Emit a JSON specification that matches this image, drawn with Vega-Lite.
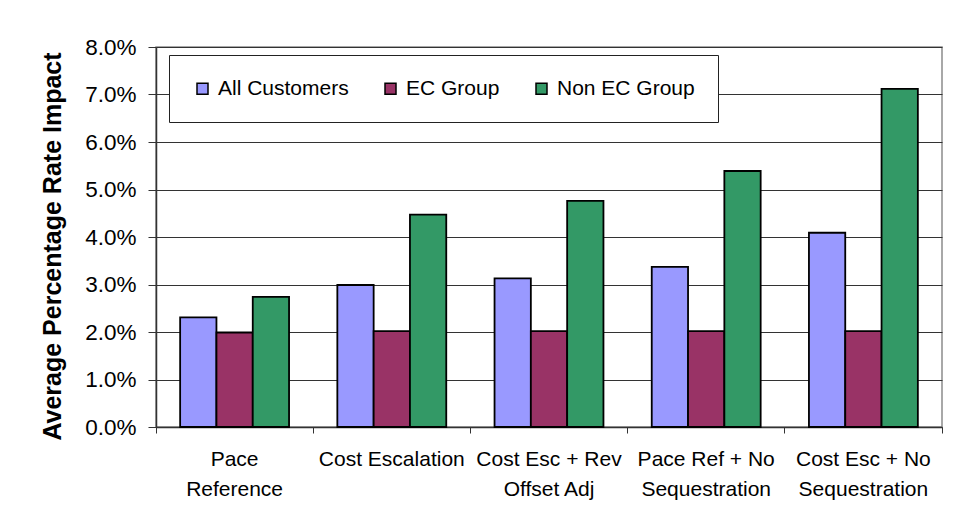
{
  "$schema": "https://vega.github.io/schema/vega-lite/v6.json",
  "autosize": "none",
  "padding": {"left": 156, "top": 47, "right": 14, "bottom": 102},
  "width": 786,
  "height": 380,
  "background": "white",
  "data": {
    "values": [
      {"scenario": "Pace Reference", "group": "All Customers", "impact": 0.0231},
      {"scenario": "Pace Reference", "group": "EC Group", "impact": 0.0199},
      {"scenario": "Pace Reference", "group": "Non EC Group", "impact": 0.0274},
      {"scenario": "Cost Escalation", "group": "All Customers", "impact": 0.0299},
      {"scenario": "Cost Escalation", "group": "EC Group", "impact": 0.0202},
      {"scenario": "Cost Escalation", "group": "Non EC Group", "impact": 0.0447},
      {"scenario": "Cost Esc + Rev Offset Adj", "group": "All Customers", "impact": 0.0313},
      {"scenario": "Cost Esc + Rev Offset Adj", "group": "EC Group", "impact": 0.0202},
      {"scenario": "Cost Esc + Rev Offset Adj", "group": "Non EC Group", "impact": 0.0476},
      {"scenario": "Pace Ref + No Sequestration", "group": "All Customers", "impact": 0.0337},
      {"scenario": "Pace Ref + No Sequestration", "group": "EC Group", "impact": 0.0202},
      {"scenario": "Pace Ref + No Sequestration", "group": "Non EC Group", "impact": 0.0539},
      {"scenario": "Cost Esc + No Sequestration", "group": "All Customers", "impact": 0.0409},
      {"scenario": "Cost Esc + No Sequestration", "group": "EC Group", "impact": 0.0202},
      {"scenario": "Cost Esc + No Sequestration", "group": "Non EC Group", "impact": 0.0712}
    ]
  },
  "mark": {"type": "bar", "stroke": "black", "strokeWidth": 1.8},
  "encoding": {
    "x": {
      "field": "scenario",
      "type": "nominal",
      "sort": null,
      "title": null,
      "scale": {"paddingInner": 0, "paddingOuter": 0},
      "axis": {
        "labelAngle": 0,
        "labelFont": "Liberation Sans",
        "labelFontSize": 21,
        "labelColor": "black",
        "labelLineHeight": 30,
        "labelBaseline": "top",
        "labelPadding": 15,
        "labelExpr": "datum.label == 'Pace Reference' ? ['Pace', 'Reference'] : datum.label == 'Cost Esc + Rev Offset Adj' ? ['Cost Esc + Rev', 'Offset Adj'] : datum.label == 'Pace Ref + No Sequestration' ? ['Pace Ref + No', 'Sequestration'] : datum.label == 'Cost Esc + No Sequestration' ? ['Cost Esc + No', 'Sequestration'] : datum.label",
        "bandPosition": 1,
        "tickExtra": true,
        "tickSize": 6,
        "tickColor": "#333333",
        "domainColor": "#333333",
        "domainWidth": 1.5,
        "labelLimit": 300
      }
    },
    "xOffset": {
      "field": "group",
      "type": "nominal",
      "sort": ["All Customers", "EC Group", "Non EC Group"],
      "scale": {"paddingInner": 0, "paddingOuter": 0.665}
    },
    "y": {
      "field": "impact",
      "type": "quantitative",
      "title": "Average Percentage Rate Impact",
      "scale": {"domain": [0, 0.08], "nice": false},
      "axis": {
        "values": [0, 0.01, 0.02, 0.03, 0.04, 0.05, 0.06, 0.07, 0.08],
        "format": ".1%",
        "labelFont": "Liberation Sans",
        "labelFontSize": 22.5,
        "labelColor": "black",
        "labelPadding": 12,
        "tickSize": 8,
        "tickColor": "#333333",
        "domainColor": "#333333",
        "domainWidth": 1.5,
        "grid": true,
        "gridColor": "#333333",
        "gridWidth": 1,
        "titleFont": "Liberation Sans",
        "titleFontSize": 25,
        "titleFontWeight": "bold",
        "titleColor": "black",
        "titleAngle": -90,
        "titleAlign": "center",
        "titleBaseline": "middle",
        "titleX": -104,
        "titleY": 199
      }
    },
    "color": {
      "field": "group",
      "type": "nominal",
      "sort": ["All Customers", "EC Group", "Non EC Group"],
      "scale": {
        "domain": ["All Customers", "EC Group", "Non EC Group"],
        "range": ["#9999FF", "#993366", "#339966"]
      },
      "legend": {
        "title": null,
        "orient": "none",
        "direction": "horizontal",
        "legendX": 13,
        "legendY": 8,
        "padding": 23,
        "fillColor": "white",
        "strokeColor": "#222222",
        "symbolType": "square",
        "symbolSize": 121,
        "symbolStrokeColor": "black",
        "symbolStrokeWidth": 1.5,
        "symbolOpacity": 1,
        "labelFont": "Liberation Sans",
        "labelFontSize": 21,
        "labelColor": "black",
        "labelOffset": 5,
        "columnPadding": 31,
        "labelLimit": 300
      }
    }
  },
  "config": {
    "view": {"stroke": "#8c8c8c", "strokeWidth": 1.5, "fill": "white"},
    "axis": {"labelOverlap": false}
  }
}
